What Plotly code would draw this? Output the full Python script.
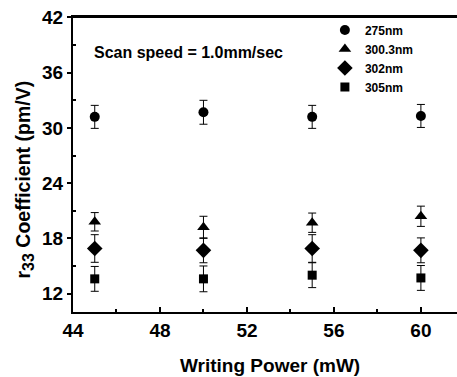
import plotly.graph_objects as go

writing_power = [45, 50, 55, 60]
series_names = ["275nm", "300.3nm", "302nm", "305nm"]
y_275 = [31.2, 31.7, 31.2, 31.3]
e_275 = [1.25, 1.3, 1.25, 1.25]
y_3003 = [19.8, 19.2, 19.7, 20.4]
e_3003 = [1.0, 1.2, 1.05, 1.1]
y_302 = [16.9, 16.7, 16.9, 16.7]
e_302 = [1.5, 1.35, 1.5, 1.35]
y_305 = [13.6, 13.6, 14.0, 13.7]
e_305 = [1.35, 1.4, 1.35, 1.35]
y_tick_vals = [12, 18, 24, 30, 36, 42]
x_tick_vals = [44, 48, 52, 56, 60]

symbols = ["circle", "triangle-up", "diamond", "square"]
sizes = [10, 11, 12, 9]
ys = [y_275, y_3003, y_302, y_305]
es = [e_275, e_3003, e_302, e_305]

FONT = "Liberation Sans"

fig = go.Figure()
for name, sym, sz, y, e in zip(series_names, symbols, sizes, ys, es):
    fig.add_trace(go.Scatter(
        x=writing_power, y=y, mode="markers", name=name,
        marker=dict(symbol=sym, size=sz, color="black"),
        error_y=dict(type="data", array=e, visible=True, color="black",
                     thickness=1, width=4),
    ))

fig.add_annotation(
    x=0.049, y=0.878, xref="paper", yref="paper", xanchor="left", yanchor="middle",
    text="<b>Scan speed = 1.0mm/sec</b>", showarrow=False,
    font=dict(family=FONT, size=16, color="black"),
)
# axis titles
fig.add_annotation(
    x=0.514, y=-0.183, xref="paper", yref="paper", xanchor="center", yanchor="middle",
    text="<b>Writing Power (mW)</b>", showarrow=False,
    font=dict(family=FONT, size=19, color="black"),
)
fig.add_annotation(
    x=-0.127, y=0.45, xref="paper", yref="paper", xanchor="center", yanchor="middle",
    text="<b>r<sub><span style='font-size:16px'>33</span></sub> Coefficient (pm/V)</b>",
    showarrow=False, textangle=-90,
    font=dict(family=FONT, size=19.5, color="black"),
)
# top frame line
fig.add_shape(type="line", xref="paper", yref="paper", x0=0, x1=1, y0=1, y1=1,
              line=dict(color="black", width=2), layer="above")

fig.update_layout(
    width=457, height=377,
    margin=dict(l=73, r=0, t=17, b=65, autoexpand=False),
    paper_bgcolor="white", plot_bgcolor="white",
    font=dict(family=FONT, color="black"),
    showlegend=True,
    legend=dict(
        x=0.656, y=1.005, xanchor="left", yanchor="top",
        bgcolor="rgba(0,0,0,0)", borderwidth=0,
        font=dict(family=FONT, size=12, color="black", weight="bold"),
        tracegroupgap=0, itemwidth=30,
    ),
    xaxis=dict(
        range=[44, 61.66], tickvals=x_tick_vals,
        ticktext=["<b>%d</b>" % v for v in x_tick_vals],
        showgrid=False, zeroline=False, automargin=False,
        showline=True, linecolor="black", linewidth=2, mirror=True,
        ticks="inside", ticklen=5, tickwidth=2, tickcolor="black",
        minor=dict(tickvals=[46, 50, 54, 58], ticks="inside", ticklen=3, tickwidth=2, tickcolor="black"),
        tickfont=dict(family=FONT, size=19, color="black"),
    ),
    yaxis=dict(
        range=[10, 42.05], tickvals=y_tick_vals,
        ticktext=["<b>%d</b>" % v for v in y_tick_vals],
        showgrid=False, zeroline=False, automargin=False,
        showline=True, linecolor="black", linewidth=2, mirror=False,
        ticks="outside", ticklen=4, tickwidth=2, tickcolor="black",
        minor=dict(tickvals=[15, 21, 27, 33, 39], ticks="inside", ticklen=3, tickwidth=2, tickcolor="black"),
        tickfont=dict(family=FONT, size=19, color="black"),
    ),
)

fig.write_html("out.html", config={"displayModeBar": False},
               post_script="document.body.style.margin='0';")
